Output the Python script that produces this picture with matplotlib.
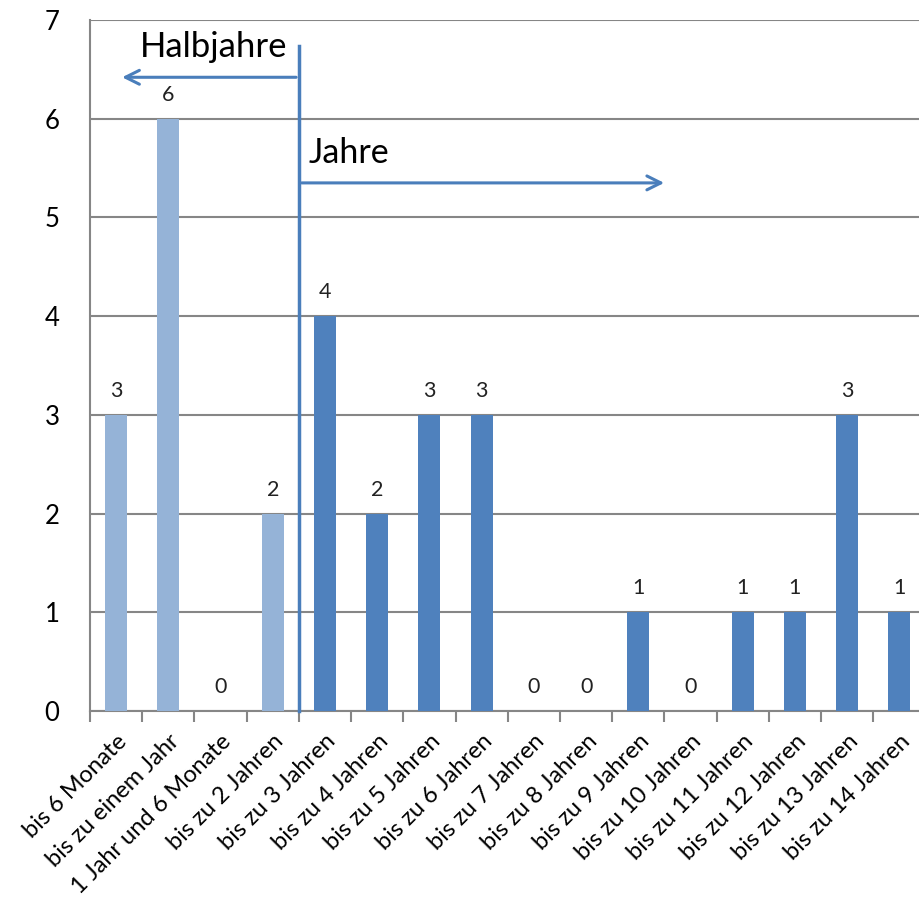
import matplotlib
matplotlib.use("Agg")
import matplotlib.pyplot as plt
import numpy as np

plt.rcParams["font.family"] = ["Lato", "DejaVu Sans"]

categories = [
    "bis 6 Monate", "bis zu einem Jahr", "1 Jahr und 6 Monate", "bis zu 2 Jahren",
    "bis zu 3 Jahren", "bis zu 4 Jahren", "bis zu 5 Jahren", "bis zu 6 Jahren",
    "bis zu 7 Jahren", "bis zu 8 Jahren", "bis zu 9 Jahren", "bis zu 10 Jahren",
    "bis zu 11 Jahren", "bis zu 12 Jahren", "bis zu 13 Jahren", "bis zu 14 Jahren",
]
counts = [3, 6, 0, 2, 4, 2, 3, 3, 0, 0, 1, 0, 1, 1, 3, 1]
n_halbjahre = 4  # first four bars count in half years

light = "#95B3D7"
dark = "#4F81BD"
line_col = "#4A7EBB"
grid_col = "#868686"

fig = plt.figure(figsize=(9.19, 9.06), dpi=100)
ax = fig.add_axes([0.098, 0.2152, 0.909, 0.7627])

x = np.arange(len(categories))
colors = [light if i < n_halbjahre else dark for i in range(len(categories))]
ax.bar(x, counts, width=0.42, color=colors, zorder=3)

for xi, v in zip(x, counts):
    ax.annotate(str(v), (xi, v), xytext=(0, 10), textcoords="offset points",
                ha="center", va="bottom", fontsize=15.5, color="#222222")

ax.set_xlim(-0.5, len(categories) - 0.5)
ax.set_ylim(0, 7)
ax.set_yticks(range(8))
ax.yaxis.grid(True, color=grid_col, linewidth=1.5, zorder=0)
ax.tick_params(axis="y", length=0, labelsize=18.5, pad=22)
ax.set_xticks(np.arange(-0.5, len(categories), 1), minor=False)
ax.set_xticklabels([])
ax.set_xticks(x, minor=True)
ax.set_xticklabels(categories, minor=True, rotation=45, ha="right",
                   rotation_mode="anchor", fontsize=17)
ax.tick_params(axis="x", which="major", length=8, width=1.5, color=grid_col)
ax.tick_params(axis="x", which="minor", length=0, pad=14)
for s in ["top", "right"]:
    ax.spines[s].set_visible(False)
for s in ["left", "bottom"]:
    ax.spines[s].set_color(grid_col)
    ax.spines[s].set_linewidth(1.5)

# divider between half-year and year categories
div = n_halbjahre - 0.5
ax.plot([div, div], [0, 6.74], color=line_col, linewidth=2.5, zorder=4, clip_on=False)
ax.annotate("", xy=(0.06, 6.42), xytext=(div, 6.42),
            arrowprops=dict(arrowstyle="->", color=line_col, lw=2.2,
                            mutation_scale=25), zorder=4)
ax.annotate("", xy=(10.55, 5.35), xytext=(div, 5.35),
            arrowprops=dict(arrowstyle="->", color=line_col, lw=2.2,
                            mutation_scale=25), zorder=4)
ax.text(0.46, 6.73, "Halbjahre", fontsize=25, va="center", ha="left")
ax.text(3.68, 5.65, "Jahre", fontsize=24.5, va="center", ha="left")

fig.savefig("out.png", dpi=100)
